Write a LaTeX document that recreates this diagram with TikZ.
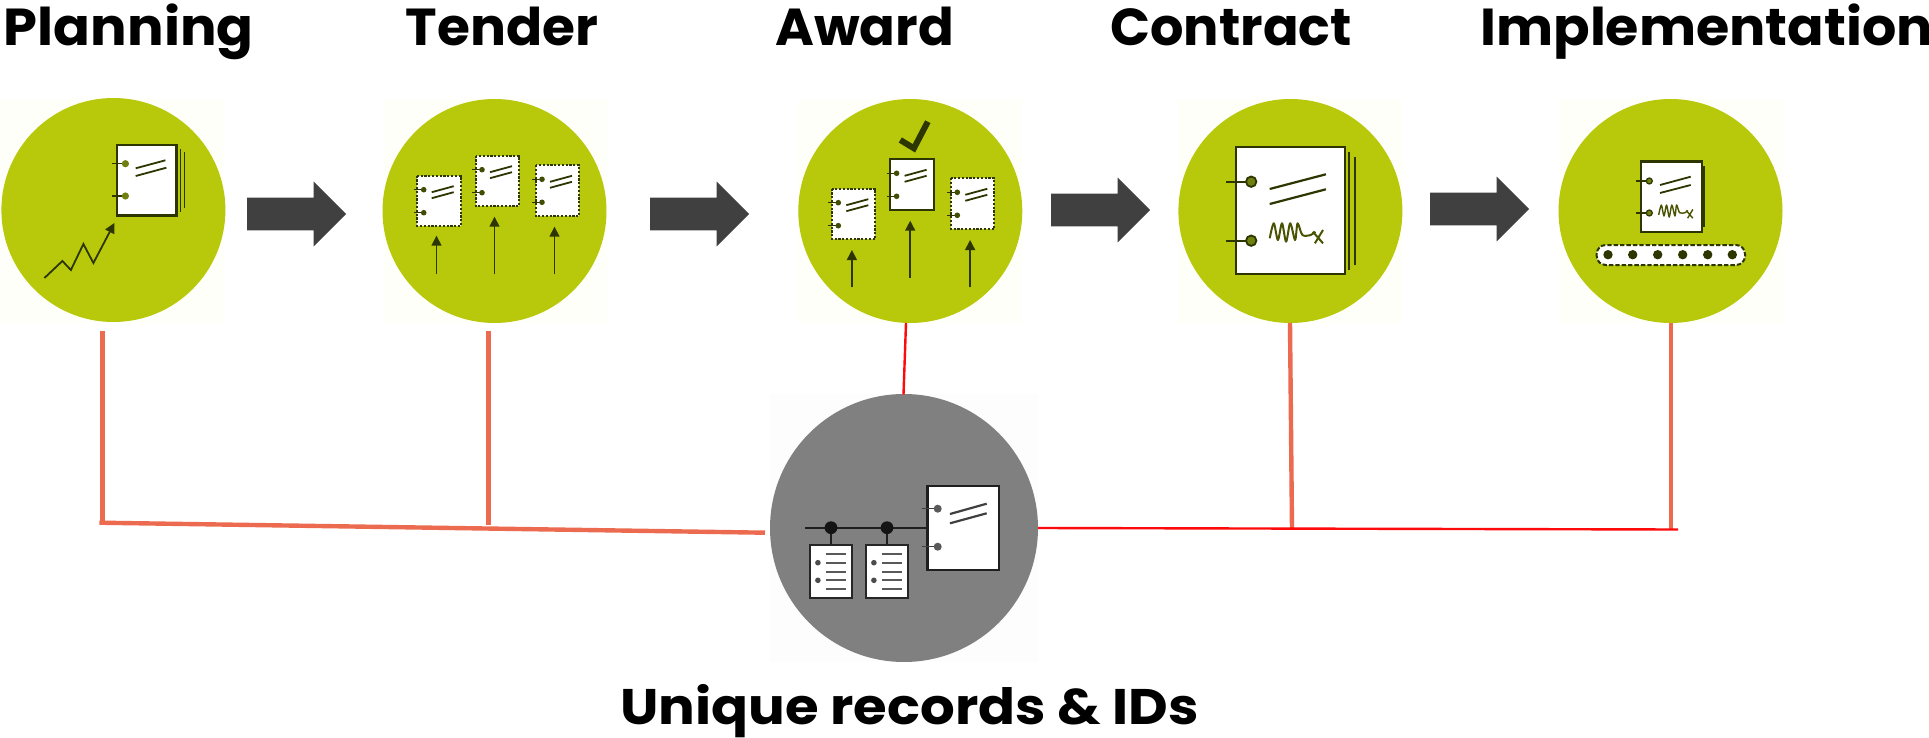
\documentclass[tikz,border=0pt]{standalone}
\usepackage{fontspec}
\setmainfont{Poppins}
\usetikzlibrary{shapes.arrows,arrows.meta}
\definecolor{stageg}{HTML}{B8C90B}
\definecolor{ink}{HTML}{2D3600}
\definecolor{orangeln}{HTML}{EC6A50}
\definecolor{redln}{HTML}{FF0A0A}
\definecolor{blockarrow}{HTML}{404040}
\definecolor{holeg}{HTML}{6F7F10}
\definecolor{greydisc}{HTML}{808080}
\definecolor{paleg}{HTML}{FFFFFA}
\definecolor{palegrey}{HTML}{FDFDFD}
\tikzset{
 stage/.style={circle,fill=stageg,minimum size=112pt,inner sep=0pt,outer sep=0pt},
 greystage/.style={circle,fill=greydisc,minimum size=134pt,inner sep=0pt,outer sep=0pt},
 blockarr/.style={single arrow,fill=blockarrow,minimum height=49.5pt,minimum width=32pt,single arrow head extend=8pt,single arrow head indent=0pt,inner xsep=0pt,inner ysep=8pt,outer sep=0pt,anchor=tip},
 title/.style={font=\fontsize{26}{30}\selectfont\bfseries,anchor=base west,inner sep=0pt,text=black,transform shape},
 orangelink/.style={draw=orangeln,line width=2.2pt},
 redlink/.style={draw=redln,line width=1.2pt},
 solidpage/.style={fill=white,draw=ink,line width=1.1pt},
 dashpage/.style={fill=white,draw=ink,line width=1pt,dash pattern=on 1.1pt off 0.8pt},
 rule/.style={draw=ink,line width=0.9pt},
 riser/.style={draw=ink,line width=0.75pt,-{Triangle[length=5pt,width=5pt]}},
}
% small page: x y style
\newcommand\smallpage[3]{%
\begin{scope}[shift={(#1,#2)}]
\draw[#3] (0,0) rectangle (43.5,50.5);
\draw[rule,line width=0.6pt] (-3.6,14) -- (6.5,14) (-3.6,37) -- (6.5,37);
\fill[ink!85!stageg] (6.5,14) circle[radius=1.4pt] (6.5,37) circle[radius=1.4pt];
\draw[rule] (14.5,16.5) -- (36.5,10.5) (14.5,22.5) -- (36.5,16.5);
\end{scope}}
% signature scrawl: x y xscale yscale linewidth
\newcommand\scrawl[5]{%
\begin{scope}[shift={(#1,#2)},xscale=#3,yscale=#4]
\draw[draw=ink!80!stageg,line width=#5,line join=round] plot[smooth,tension=0.5] coordinates {(0,15) (4.1,0) (8.2,16.7) (12.3,0) (16.4,18.4) (20.5,0) (25.4,16.7) (27.9,0) (32.7,11.7) (41,11.7) (45.7,8.4)};
\draw[draw=ink!80!stageg,line width=#5] (43.1,8.4) -- (53.3,20) (53.3,6.7) -- (45.2,20);
\end{scope}}
% record sheet with list rows: x
\newcommand\listsheet[1]{%
\begin{scope}[shift={(#1,545)}]
\draw[fill=white,draw=black!85,line width=0.9pt] (0,0) rectangle (41.4,53.3);
\fill[black!70] (7.6,17.7) circle[radius=1.4pt] (7.6,35.3) circle[radius=1.4pt];
\draw[black!65,line width=0.85pt] (15.4,8.7) -- (35.7,8.7) (15.4,17.7) -- (35.7,17.7) (15.4,26.7) -- (35.7,26.7) (15.4,35.3) -- (35.7,35.3) (15.4,44.3) -- (35.7,44.3);
\end{scope}}
\begin{document}
\begin{tikzpicture}[x=0.5pt,y=-0.5pt]
\useasboundingbox (0,0) rectangle (1929,738);
\fill[white] (0,0) rectangle (1929,738);
% pale image backgrounds
\foreach \cx in {113.4,494.5,910.3,1290.4,1670.5}{\fill[paleg] (\cx-112,99) rectangle (\cx+112,323);}
\fill[palegrey] (770,394) rectangle (1038,662);
% discs
\node[stage] (c1) at (113.4,210) {};
\node[stage] (c2) at (494.5,211) {};
\node[stage] (c3) at (910.3,211) {};
\node[stage] (c4) at (1290.4,211) {};
\node[stage] (c5) at (1670.5,211) {};
\node[greystage] (c6) at (904,528) {};
% block arrows
\node[blockarr] (a1) at (346,214) {};
\node[blockarr] (a2) at (749,214) {};
\node[blockarr] (a3) at (1150,210) {};
\node[blockarr] (a4) at (1529,209) {};
% titles
\node[title,xscale=1.045] (t1) at (3.5,46) {Planning};
\node[title,xscale=1.027] (t2) at (405.5,46) {Tender};
\node[title,xscale=1.014] (t3) at (775,46) {Award};
\node[title,xscale=1.01] (t4) at (1110,46) {Contract};
\node[title,xscale=1.037] (t5) at (1480,46) {Implementation};
\node[title,xscale=1.09,font=\fontsize{25}{30}\selectfont\bfseries] (t6) at (620,724) {Unique records \& IDs};
% connectors
\coordinate (p1) at (102.5,331); \coordinate (b1) at (102.5,523);
\coordinate (p2) at (488.5,331); \coordinate (b2) at (488.5,525);
\coordinate (j0) at (99.3,522.7); \coordinate (j1) at (765,532.7);
\coordinate (p3) at (906,323); \coordinate (q3) at (903.5,394.5);
\coordinate (p4) at (1290,323); \coordinate (b4) at (1292,529);
\coordinate (p5) at (1670.8,323); \coordinate (b5) at (1670.8,529.5);
\coordinate (j2) at (1038,528); \coordinate (j3) at (1678,529.5);
\draw[orangelink] (p1) -- (b1);
\draw[orangelink] (p2) -- (b2);
\draw[orangelink] (j0) -- (j1);
\draw[orangelink] (p4) -- (b4);
\draw[orangelink] (p5) -- (b5);
\draw[redlink] (p3) -- (q3);
\draw[redlink] (j2) -- (j3);
% --- Planning icon
\begin{scope}[shift={(-0.6,0)}]
\draw[ink,line width=0.8pt] (181,149) -- (181,212) (185,152) -- (185,208);
\draw[solidpage,line width=1.4pt] (117.6,145) rectangle (177.3,215.3);
\draw[rule,line width=0.6pt] (112.5,163.7) -- (126,163.7) (112.5,196) -- (126,196);
\fill[holeg] (126,163.7) circle[radius=1.8pt] (126,196) circle[radius=1.8pt];
\draw[rule] (136.3,168.3) -- (166,160.3) (136.3,176) -- (167,167.7);
\draw[riser,line width=0.9pt,line join=miter] (45,278) -- (63,261) -- (71.5,270) -- (84,244) -- (94,263) -- (115,223);
\end{scope}
% --- Tender icon
\begin{scope}[shift={(-2.5,0)}]
\smallpage{419.7}{175.7}{dashpage}
\smallpage{478}{155.7}{dashpage}
\smallpage{538}{165.3}{dashpage}
\draw[riser] (439,274.3) -- (439,235.7);
\draw[riser] (497,274.3) -- (497,216.7);
\draw[riser] (557,274.3) -- (557,226.7);
\end{scope}
% --- Award icon
\begin{scope}[shift={(-0.7,0)}]
\draw[ink,line width=3pt] (901,140) -- (914.6,148.3) -- (928.5,121.7);
\smallpage{832.5}{188.7}{dashpage}
\smallpage{890.8}{159.3}{solidpage}
\smallpage{951.5}{178.3}{dashpage}
\draw[riser] (852.6,287.3) -- (852.6,250);
\draw[riser] (910.9,277.7) -- (910.9,220.7);
\draw[riser] (970.8,287.3) -- (970.8,240);
\end{scope}
% --- Contract icon
\begin{scope}[shift={(-2.6,0)}]
\draw[ink,line width=0.9pt] (1351.5,151.7) -- (1351.5,270) (1357.2,156.7) -- (1357.2,265);
\draw[solidpage] (1238.7,147.3) rectangle (1347.4,274.3);
\draw[ink,line width=1.1pt] (1228.4,181.7) -- (1250,181.7) (1228.4,240.7) -- (1250,240.7);
\draw[fill=holeg,draw=ink,line width=0.9pt] (1253.8,181.7) circle[radius=2.6pt] (1253.8,240.7) circle[radius=2.6pt];
\draw[ink,line width=1.1pt] (1272.3,189) -- (1328.5,174.3) (1272.3,204) -- (1328.5,189.3);
\scrawl{1272.3}{223.3}{1}{1}{1pt}
\end{scope}
% --- Implementation icon
\draw[ink,line width=0.7pt] (1704,166) -- (1704,226.7);
\draw[solidpage,line width=1.3pt] (1641,161.7) rectangle (1702,232);
\draw[rule,line width=0.6pt] (1636,181) -- (1649.3,181) (1636,213) -- (1649.3,213);
\draw[fill=holeg,draw=ink,line width=0.6pt] (1649.3,181) circle[radius=1.5pt] (1649.3,213) circle[radius=1.5pt];
\draw[rule] (1660,185) -- (1690.7,176.7) (1660,193) -- (1690.7,185);
\scrawl{1658.7}{205}{0.64}{0.66}{0.7pt}
\draw[fill=white,draw=ink,line width=1pt,rounded corners=4.5pt,dash pattern=on 2.2pt off 1pt] (1596.7,245) rectangle (1745,265);
\foreach \bx in {1608,1632.7,1657.7,1682.7,1707.7,1732.3}{\fill[ink] (\bx,254.7) circle[radius=2.35pt];}
% --- Records icon
\draw[black!88,line width=1pt] (805,527.7) -- (927.3,527.7);
\draw[black!88,line width=0.9pt] (831,527.7) -- (831,545) (887,527.7) -- (887,545);
\fill[black!92] (831,527.7) circle[radius=3.2pt] (887,527.7) circle[radius=3.2pt];
\listsheet{810.3}
\listsheet{866.3}
\draw[fill=white,draw=black!88,line width=1.25pt] (927.3,486) rectangle (999,570);
\draw[black!75,line width=0.7pt] (921.7,508.7) -- (937.7,508.7) (921.7,546.7) -- (937.7,546.7);
\fill[black!65] (937.7,508.7) circle[radius=2pt] (937.7,546.7) circle[radius=2pt];
\draw[black!75,line width=1.1pt] (950,514) -- (986.7,503.7) (950,523.3) -- (986.7,513.3);
\end{tikzpicture}
\end{document}
